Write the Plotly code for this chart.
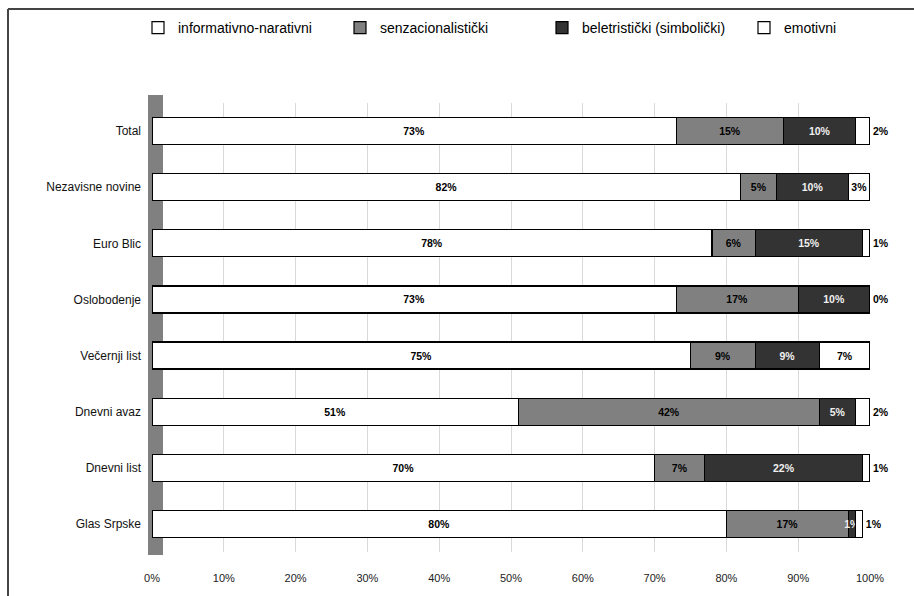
import plotly.graph_objects as go

categories = ["Total", "Nezavisne novine", "Euro Blic", "Oslobodenje",
              "Večernji list", "Dnevni avaz", "Dnevni list", "Glas Srpske"]
informativno = [73, 82, 78, 73, 75, 51, 70, 80]
senzacionalisticki = [15, 5, 6, 17, 9, 42, 7, 17]
beletristicki = [10, 10, 15, 10, 9, 5, 22, 1]
emotivni = [2, 3, 1, 0, 7, 2, 1, 1]
x_ticks = [0, 10, 20, 30, 40, 50, 60, 70, 80, 90, 100]

series = [
    ("informativno-narativni", informativno, "#ffffff", "#000000"),
    ("senzacionalistički", senzacionalisticki, "#808080", "#000000"),
    ("beletristički (simbolički)", beletristicki, "#333333", "#f0f0f0"),
    ("emotivni", emotivni, "#ffffff", "#000000"),
]

fig = go.Figure()
for i, (name, vals, col, tcol) in enumerate(series):
    if i == 3:
        pos = ["outside" if v <= 2 else "inside" for v in vals]
    else:
        pos = "inside"
    fig.add_trace(go.Bar(
        name=name, y=categories, x=vals, orientation="h",
        marker=dict(color=col, line=dict(color="#000000", width=1.2)),
        text=[f"<b>{v}%</b>" for v in vals], textposition=pos, textangle=0,
        insidetextanchor="middle", constraintext="none",
        textfont=dict(family="Liberation Sans, Arial", size=10.5, color=tcol),
        outsidetextfont=dict(family="Liberation Sans, Arial", size=10.5, color="#000000"),
        cliponaxis=False,
    ))

L, R, T, B = 152, 44, 103, 44
W, H = 914, 596
pw, ph = W - L - R, H - T - B

def px(x):
    return (x - L) / pw

def py(y):
    return (H - B - y) / ph

fig.update_layout(
    barmode="stack", bargap=0.52,
    width=W, height=H,
    margin=dict(l=L, r=R, t=T, b=B, autoexpand=False),
    paper_bgcolor="#ffffff", plot_bgcolor="#ffffff",
    font=dict(family="Liberation Sans, Arial", size=12, color="#000000"),
    legend=dict(orientation="h", x=px(138), xanchor="left", y=py(28), yanchor="middle",
                font=dict(size=14), traceorder="normal", itemwidth=30,
                entrywidth=157, entrywidthmode="pixels"),
    xaxis=dict(range=[0, 100], tickvals=x_ticks, ticktext=[f"{v}%" for v in x_ticks],
               showgrid=True, gridcolor="#d9d9d9", gridwidth=1, zeroline=False,
               showline=False, ticks="", tickfont=dict(size=11, color="#222222"),
               ticklabelstandoff=18, automargin=False),
    yaxis=dict(categoryorder="array", categoryarray=categories, autorange="reversed",
               showgrid=False, ticks="", tickfont=dict(size=12, color="#111111"),
               ticklabelstandoff=10, automargin=False),
    shapes=[
        dict(type="rect", xref="paper", yref="paper", x0=px(148), x1=px(163),
             y0=py(555), y1=py(95), fillcolor="#808080", line=dict(width=0), layer="below"),
        dict(type="line", xref="paper", yref="paper", x0=px(8), x1=px(914),
             y0=py(9), y1=py(9), line=dict(color="#444444", width=2)),
        dict(type="line", xref="paper", yref="paper", x0=px(8), x1=px(8),
             y0=py(9), y1=py(596), line=dict(color="#444444", width=2)),
    ],
)

fig.write_html("out.html", config={"displayModeBar": False},
               post_script="document.body.style.margin='0';document.body.style.overflow='hidden';")
